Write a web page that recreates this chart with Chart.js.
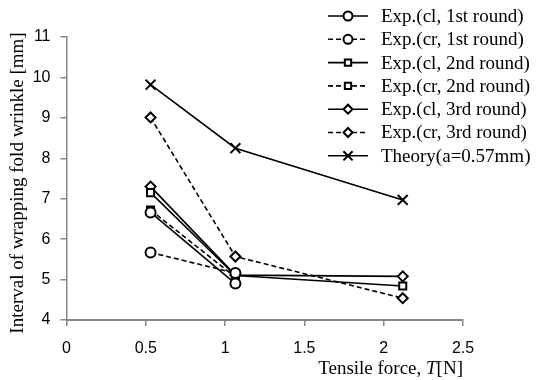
<!DOCTYPE html>
<html lang="en">
<head>
    <meta charset="UTF-8">
    <title>Interval of wrapping fold wrinkle</title>
    <script src="https://cdn.jsdelivr.net/npm/chart.js"></script>
    <style>
        body { margin: 0; background: #fff; }
        #wrap { width: 536px; height: 380px; position: relative; }
    </style>
</head>
<body>
<div id="wrap"><canvas id="foldChart" width="536" height="380"></canvas></div>
<script>
// tensile force T [N]
const tension = [0.53, 1.065, 2.12];

// interval of fold wrinkle [mm], null = not measured
const cl1 = [6.66, 4.90, null];
const cr1 = [5.67, 5.16, null];
const cl2 = [7.15, 5.10, 4.84];
const cr2 = [6.72, 5.06, null];
const cl3 = [7.30, 5.11, 5.08];
const cr3 = [9.01, 5.57, 4.54];
const theory = [9.82, 8.25, 6.97];

const seriesNames = [
    'Exp.(cl, 1st round)', 'Exp.(cr, 1st round)',
    'Exp.(cl, 2nd round)', 'Exp.(cr, 2nd round)',
    'Exp.(cl, 3rd round)', 'Exp.(cr, 3rd round)',
    'Theory(a=0.57mm)'
];
const xTicks = [0, 0.5, 1, 1.5, 2, 2.5];
const yTicks = [4, 5, 6, 7, 8, 9, 10, 11];

const serif = "'Liberation Serif', 'Times New Roman', serif";
const sans = "'Liberation Sans', Arial, sans-serif";
const axisGrey = '#868686';

function toPoints(vals) {
    const pts = [];
    vals.forEach((v, i) => { if (v !== null) pts.push({ x: tension[i], y: v }); });
    return pts;
}

function makeSet(i, vals, style, dashed) {
    return {
        label: seriesNames[i],
        data: toPoints(vals),
        showLine: true,
        borderColor: '#000',
        borderWidth: 1.6,
        borderDash: dashed ? [5, 3] : [],
        pointStyle: style,
        pointRadius: style === 'crossRot' ? 7 : 5,
        pointBorderWidth: 2,
        pointBackgroundColor: '#fff',
        pointBorderColor: '#000'
    };
}

// legend + axis titles drawn by hand (line sample with marker in the middle)
const extras = {
    id: 'extras',
    afterDraw(chart) {
        const ctx = chart.ctx;
        ctx.save();
        ctx.fillStyle = '#000';
        ctx.strokeStyle = '#000';

        // legend
        ctx.font = '19px ' + serif;
        ctx.textBaseline = 'middle';
        chart.data.datasets.forEach((ds, i) => {
            const y = 16 + i * 23.3;
            ctx.lineWidth = 1.6;
            ctx.setLineDash(ds.borderDash);
            ctx.beginPath();
            ctx.moveTo(328, y);
            ctx.lineTo(368, y);
            ctx.stroke();
            ctx.setLineDash([]);
            ctx.lineWidth = 2;
            ctx.fillStyle = '#fff';
            Chart.helpers.drawPoint(ctx, { pointStyle: ds.pointStyle, radius: ds.pointStyle === 'crossRot' ? 6.5 : 4.5, borderWidth: 2 }, 348, y);
            ctx.fillStyle = '#000';
            ctx.fillText(ds.label, 381, y + 1);
        });

        // y title
        ctx.font = '19px ' + serif;
        ctx.textAlign = 'center';
        ctx.translate(18, 183);
        ctx.rotate(-Math.PI / 2);
        ctx.fillText('Interval of wrapping fold wrinkle [mm]', 0, 0);
        ctx.restore();

        // x title with italic T
        ctx.save();
        ctx.fillStyle = '#000';
        ctx.textBaseline = 'alphabetic';
        const a = 'Tensile force, ', b = 'T', c = '[N]';
        ctx.font = '19px ' + serif;
        const wa = ctx.measureText(a).width, wc = ctx.measureText(c).width;
        ctx.font = 'italic 19px ' + serif;
        const wb = ctx.measureText(b).width;
        let x = 463 - (wa + wb + wc);
        const y = 374;
        ctx.font = '19px ' + serif;
        ctx.fillText(a, x, y);
        ctx.font = 'italic 19px ' + serif;
        ctx.fillText(b, x + wa, y);
        ctx.font = '19px ' + serif;
        ctx.fillText(c, x + wa + wb, y);
        ctx.restore();
    }
};

new Chart(document.getElementById('foldChart'), {
    type: 'scatter',
    data: {
        datasets: [
            makeSet(0, cl1, 'circle', false),
            makeSet(1, cr1, 'circle', true),
            makeSet(2, cl2, 'rect', false),
            makeSet(3, cr2, 'rect', true),
            makeSet(4, cl3, 'rectRot', false),
            makeSet(5, cr3, 'rectRot', true),
            makeSet(6, theory, 'crossRot', false)
        ]
    },
    options: {
        responsive: false,
        animation: false,
        events: [],
        layout: { padding: { left: 0, right: 73, top: 37, bottom: 0 } },
        plugins: { legend: { display: false }, tooltip: { enabled: false } },
        scales: {
            x: {
                type: 'linear',
                min: 0,
                max: 2.5,
                afterFit(scale) { scale.height = 60; },
                afterBuildTicks(scale) { scale.ticks = xTicks.map(v => ({ value: v })); },
                grid: { drawOnChartArea: false, color: axisGrey, tickLength: 6, lineWidth: 1.5 },
                border: { color: axisGrey, width: 2 },
                ticks: {
                    color: '#000', font: { family: sans, size: 16 }, padding: 13, maxRotation: 0,
                    callback: v => String(v)
                }
            },
            y: {
                type: 'linear',
                min: 4,
                max: 11,
                afterFit(scale) { scale.width = 66.5; },
                afterBuildTicks(scale) { scale.ticks = yTicks.map(v => ({ value: v })); },
                grid: { drawOnChartArea: false, color: axisGrey, tickLength: 6, lineWidth: 1.5 },
                border: { color: axisGrey, width: 1.5 },
                ticks: { color: '#000', font: { family: sans, size: 16 }, padding: 10, callback: v => String(v) }
            }
        }
    },
    plugins: [extras]
});
</script>
</body>
</html>
